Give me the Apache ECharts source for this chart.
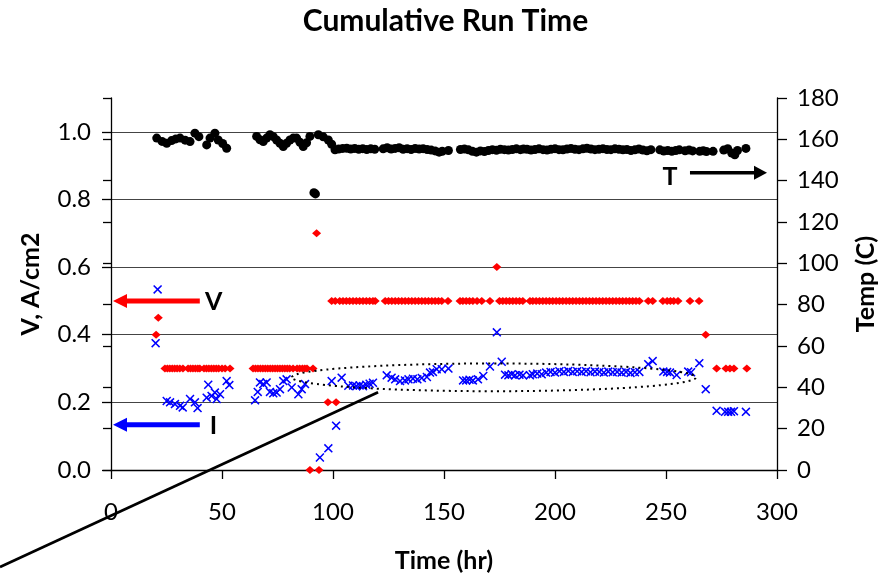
<!DOCTYPE html>
<html><head><meta charset="utf-8">
<script src="https://cdn.jsdelivr.net/npm/echarts@6/dist/echarts.min.js"></script>
<style>html,body{margin:0;padding:0;background:#fff}#c{width:891px;height:578px}</style>
</head><body><div id="c"></div>
<script>
const leftTicks = [0, 0.2, 0.4, 0.6, 0.8, 1.0];
const xTickStep = 50;
const rightTickStep = 20;

// Temperature (C) vs time (hr) — right axis
const tData = [
[20.6,160.6],[23,159],[25.1,158.1],[27.3,159.4],[29.2,160.2],[31.1,160.6],[33.4,159.6],[35.6,158.9],[37.8,163],[39.6,161.3],[43.1,157.3],[44.6,160.6],[46.8,163],[48.3,159.7],[50.3,158],[52.1,155.7],
[65.6,161.4],[67.1,159.8],[68.6,158.9],[70.1,160.6],[71.6,162.2],[73.1,161.3],[74.6,159.7],[76.1,158.1],[77.6,156.5],[79.1,158.1],[80.6,159.7],[82.1,160.6],[83.6,160.6],[85.1,158.6],[86.6,156.5],[88.1,158.3],[89.6,161.4],[91.4,134.2],[92.1,133.6],[93.4,162.2],[95.6,161.2],[97.9,159.7],[99.4,157.6],[100.9,154.9],[102.6,155.3],[104.4,155.6],[106.2,155.7],[108,155.3],[109.8,155.6],[111.6,155.2],[113.4,155.5],[115.2,155.1],[117,155.4],[118.8,155.2],
[122.6,155.4],[124.4,155.9],[126.2,155.3],[128,155.6],[129.8,155.9],[131.6,155.2],[133.4,155.5],[135.2,155.1],[137,155.6],[138.8,155.3],[140.6,155.5],[142.4,155.1],[144.2,154.8],[146,154.4],[147.8,153.8],[149.2,154.2],
[152,154.6],
[157.4,155.1],[159.2,155.3],[161,154.9],[162.8,154.2],[164.6,153.8],[166.4,154.4],[168.2,154.1],[170,154.6],[171.8,155],[173.6,154.7],[175.4,155.2],[177.2,155],[179,154.8],[180.8,155.1],[182.6,155.4],[184.4,155],[185.8,155.3],
[187.4,155.2],[189.2,154.8],[191,155.1],[192.8,155.4],[194.6,155],[196.4,154.8],[198.2,155.2],[200,155.5],[201.8,155],[203.6,154.9],[205.4,155.3],[207.2,155.6],[209,155.2],[210.8,155],[212.6,155.4],[214.4,155.7],[216.2,155.3],[218,155],[219.8,155.2],[221.6,155.5],[223.4,155.1],[225.2,155],[227,155.4],[228.8,155.2],[230.6,154.9],[232.4,155.1],[234.2,154.6],[236,154.9],[237.8,155.3],[239.6,154.8],[241.4,154.5],[243.2,155],
[247.2,154.9],[249,154.3],[250.8,154.6],[252.6,154.2],[254.4,154.6],[256,154.9],
[258.6,154.5],[260.4,154.8],[262,154.4],
[265.2,154.2],[266.8,154.5],[268.2,154.1],
[271.2,154.2],
[276,154.8],[277.8,155.5],[279.6,153.4],[281,152.5],[282.2,154.6],
[286,155.6]
];

// Voltage (V) vs time (hr) — left axis
const vData = [
[20.3,0.40],[21.3,0.45],
[24.3,0.3],[25.4,0.3],[26.5,0.3],[27.6,0.3],[28.7,0.3],[29.8,0.3],[31,0.3],[32.4,0.3],
[34.7,0.3],[35.8,0.3],[36.9,0.3],[38,0.3],[39.1,0.3],[40,0.3],
[41.9,0.3],[43,0.3],[44.1,0.3],[45.2,0.3],[46.3,0.3],[47.4,0.3],[48.5,0.3],[50,0.3],
[51.4,0.3],[53.6,0.3],
[64,0.3],[65.1,0.3],[66.2,0.3],[67.3,0.3],[68.4,0.3],[69.5,0.3],[70.6,0.3],[71.7,0.3],[72.8,0.3],[73.9,0.3],[75,0.3],[76.1,0.3],[77.2,0.3],[78.3,0.3],[79.4,0.3],[80.5,0.3],[82,0.3],
[83.8,0.3],[85,0.3],[86.2,0.3],[87.3,0.3],[88.3,0.3],
[91,0.3],
[89.6,0],[93.7,0],[92.6,0.7],[97.7,0.2],[101.4,0.2],
[99.4,0.5],[101,0.5],[103,0.5],[104.5,0.5],[106,0.5],[107.5,0.5],[109,0.5],[110.5,0.5],[112,0.5],[113.5,0.5],[115,0.5],[116.5,0.5],[118,0.5],[119,0.5],
[123.5,0.5],[125,0.5],[126.5,0.5],[128,0.5],[129.5,0.5],[131,0.5],[132.5,0.5],[134,0.5],[135.5,0.5],[137,0.5],[138.5,0.5],[140,0.5],[141.5,0.5],[143,0.5],[144.5,0.5],[146,0.5],[147.5,0.5],[149,0.5],
[151.8,0.5],
[157.2,0.5],[158.5,0.5],[160,0.5],[161.5,0.5],[163,0.5],[164.9,0.5],
[167,0.5],[170.7,0.5],
[175,0.5],[176.5,0.5],[178,0.5],[179.5,0.5],[181,0.5],[182.5,0.5],[184,0.5],[185.5,0.5],
[188.7,0.5],[190,0.5],[191.5,0.5],[193,0.5],[194.5,0.5],[196,0.5],[197.5,0.5],[199,0.5],[200.5,0.5],[202,0.5],[203.5,0.5],[205,0.5],[206.5,0.5],[208,0.5],[209.5,0.5],[211,0.5],[212.5,0.5],[214,0.5],[215.5,0.5],[217,0.5],[218.5,0.5],[220,0.5],[221.5,0.5],[223,0.5],[224.5,0.5],[226,0.5],[227.5,0.5],[229,0.5],[230.5,0.5],[232,0.5],[233.5,0.5],[235,0.5],[236.5,0.5],[238,0.5],
[242,0.5],[244,0.5],
[248.6,0.5],[250.5,0.5],[252,0.5],[253.5,0.5],[255.4,0.5],
[260.8,0.5],[264.9,0.5],
[173.8,0.6],[267.9,0.4],
[272.8,0.3],[277,0.3],[278.8,0.3],[280.6,0.3],[286.4,0.3]
];

// Current density (A/cm2) vs time (hr) — left axis
const iData = [
[20.1,0.375],[21,0.534],
[25.1,0.204],[26.6,0.2],[28.8,0.195],[31.1,0.19],[32.3,0.185],[35.6,0.21],[37.8,0.2],[39,0.183],
[43.1,0.214],[43.8,0.252],[45.3,0.219],[46.8,0.229],[47.6,0.21],[49.1,0.224],[52.1,0.263],[53.3,0.251],
[64.9,0.206],[66.1,0.231],[67.1,0.259],[68.6,0.254],[70.1,0.259],[71.6,0.231],[73.1,0.227],[74.6,0.229],[76.1,0.239],[77.6,0.263],[79.1,0.268],[81.4,0.244],[84.4,0.224],[85.9,0.239],[87.4,0.254],
[94.1,0.037],[97.9,0.064],[99.4,0.263],[101.4,0.131],[103.9,0.273],[106.9,0.249],
[109,0.25],[110.5,0.248],[112,0.25],[113.5,0.248],[115,0.252],[116.5,0.255],[118,0.258],
[124.2,0.28],[126.4,0.273],[128,0.268],[130.2,0.263],[132.4,0.265],[134,0.268],[136,0.27],[138,0.268],[140,0.272],[142.3,0.275],[143.7,0.288],[145,0.29],[146.7,0.298],[149,0.298],[152,0.3],
[158.6,0.265],[160,0.265],[161.5,0.267],[163,0.265],[165.3,0.268],[167.7,0.278],[170.7,0.306],[173.8,0.407],[176,0.32],
[177.5,0.282],[179,0.28],[180.5,0.283],[182,0.28],[184,0.282],[185.6,0.28],
[188.7,0.28],[190,0.283],[192,0.285],[194,0.283],[196,0.288],[198,0.29],[200,0.288],[202,0.292],[204,0.29],[206,0.293],[208,0.29],[210,0.292],[212,0.29],[214,0.292],[216,0.289],[218,0.291],[220,0.29],[222,0.288],[224,0.291],[226,0.289],[228,0.29],[230,0.288],[232,0.29],[234,0.287],[236,0.289],[238,0.29],
[242,0.313],[244,0.322],[248.8,0.291],[250.5,0.29],[251.8,0.288],[254.8,0.281],[260,0.291],[261.3,0.289],[265,0.316],[267.9,0.239],
[272.8,0.175],[276.6,0.172],[278,0.172],[279.3,0.172],[280.6,0.174],[286,0.172]
];

const FONT = 'Lato';
const crossPath = 'path://M0,1.2L1.2,0L5,3.8L8.8,0L10,1.2L6.2,5L10,8.8L8.8,10L5,6.2L1.2,10L0,8.8L3.8,5Z';

const chart = echarts.init(document.getElementById('c'), null, {renderer:'canvas'});
const axisNameStyle = {fontFamily:FONT, fontWeight:'bold', fontSize:25, color:'#000'};
const labelStyle = {fontFamily:FONT, fontSize:24, color:'#000'};

chart.setOption({
  animation:false,
  backgroundColor:'#fff',
  textStyle:{fontFamily:FONT},
  title:{text:'Cumulative Run Time', left:'center', top:1,
    textStyle:{fontFamily:FONT, fontWeight:'bold', fontSize:30, color:'#000'}},
  grid:{left:111, right:114, top:98, bottom:107},
  xAxis:{type:'value', min:0, max:300, interval:xTickStep,
    name:'Time (hr)', nameLocation:'middle', nameGap:78, nameTextStyle:axisNameStyle,
    axisLine:{onZero:false, lineStyle:{color:'#000', width:1.3}},
    axisTick:{show:true, length:9, lineStyle:{color:'#000', width:1.3}},
    axisLabel:Object.assign({margin:30}, labelStyle),
    splitLine:{show:false}},
  yAxis:[
    {type:'value', min:0, max:1.1, interval:0.2, position:'left',
      name:'V, A/cm2', nameLocation:'middle', nameGap:68, nameRotate:90, nameTextStyle:axisNameStyle,
      axisLine:{show:true, onZero:false, lineStyle:{color:'#000', width:1.3}},
      axisTick:{show:true, length:9, customValues:leftTicks, lineStyle:{color:'#000', width:1.3}},
      axisLabel:Object.assign({margin:20, customValues:leftTicks, formatter:v=>Number(v).toFixed(1)}, labelStyle),
      splitLine:{show:true, lineStyle:{color:'#444', width:1.2}}},
    {type:'value', min:0, max:180, interval:rightTickStep, position:'right',
      name:'Temp (C)', nameLocation:'middle', nameGap:76, nameRotate:90, nameTextStyle:axisNameStyle,
      axisLine:{show:true, onZero:false, lineStyle:{color:'#000', width:1.3}},
      axisTick:{show:true, length:10, lineStyle:{color:'#000', width:1.3}},
      axisLabel:Object.assign({margin:20}, labelStyle),
      splitLine:{show:false}},
    {type:'value', min:0, max:180, interval:rightTickStep, position:'right',
      axisLine:{show:false},
      axisTick:{show:true, inside:true, length:8, lineStyle:{color:'#000', width:1.3}},
      axisLabel:{show:false}, splitLine:{show:false}}
  ],
  series:[
    {name:'V', type:'scatter', xAxisIndex:0, yAxisIndex:0, data:vData,
      symbol:'diamond', symbolSize:[9,8], itemStyle:{color:'#ff0000', opacity:1}, z:3},
    {name:'I', type:'scatter', xAxisIndex:0, yAxisIndex:0, data:iData,
      symbol:crossPath, symbolSize:9, itemStyle:{color:'#0000ff', opacity:1}, z:4},
    {name:'T', type:'scatter', xAxisIndex:0, yAxisIndex:1, data:tData,
      symbol:'circle', symbolSize:9, itemStyle:{color:'#000', opacity:1}, z:5}
  ]
});

function P(x, y, ai){ return chart.convertToPixel({xAxisIndex:0, yAxisIndex:ai}, [x, y]); }
function arrow(a, b, color, w, hl, hw){
  const dx=b[0]-a[0], dy=b[1]-a[1], L=Math.hypot(dx,dy), ux=dx/L, uy=dy/L;
  const base=[b[0]-ux*hl, b[1]-uy*hl];
  return [
    {type:'line', z:20, shape:{x1:a[0], y1:a[1], x2:base[0]+ux, y2:base[1]+uy}, style:{stroke:color, lineWidth:w}},
    {type:'polygon', z:20, shape:{points:[b, [base[0]-uy*hw, base[1]+ux*hw], [base[0]+uy*hw, base[1]-ux*hw]]}, style:{fill:color}}
  ];
}
function label(p, t){
  return {type:'text', z:20, x:p[0], y:p[1], style:{text:t, font:'bold 25px '+FONT, fill:'#000',
    align:'center', verticalAlign:'middle', textAlign:'center', textVerticalAlign:'middle'}};
}

const ec = P(172.5, 0.274, 0);
const ex = P(172.5 + 91, 0.274, 0);
const ey = P(172.5, 0.274 + 0.041, 0);
const l1 = P(-50, -0.287, 0), l2 = P(120.3, 0.230, 0);

const g = [].concat(
  arrow(P(260.8, 143.8, 1), P(295.5, 143.8, 1), '#000', 3.5, 13, 7),
  arrow(P(40, 0.5, 0), P(0.9, 0.5, 0), '#ff0000', 5, 14, 7),
  arrow(P(40, 0.134, 0), P(0.9, 0.134, 0), '#0000ff', 5, 14, 7),
  [label(P(251.8, 142.0, 1), 'T'), label(P(46.2, 0.496, 0), 'V'), label(P(46.2, 0.130, 0), 'I')],
  [{type:'line', z:20, shape:{x1:l1[0], y1:l1[1], x2:l2[0], y2:l2[1]}, style:{stroke:'#000', lineWidth:2.8}},
   {type:'ellipse', z:20, shape:{cx:ec[0], cy:ec[1], rx:Math.abs(ex[0]-ec[0]), ry:Math.abs(ey[1]-ec[1])},
     style:{fill:'none', stroke:'#000', lineWidth:2, lineDash:[2,4]}}]
);
chart.setOption({graphic:{elements:g}});
</script>
</body></html>
